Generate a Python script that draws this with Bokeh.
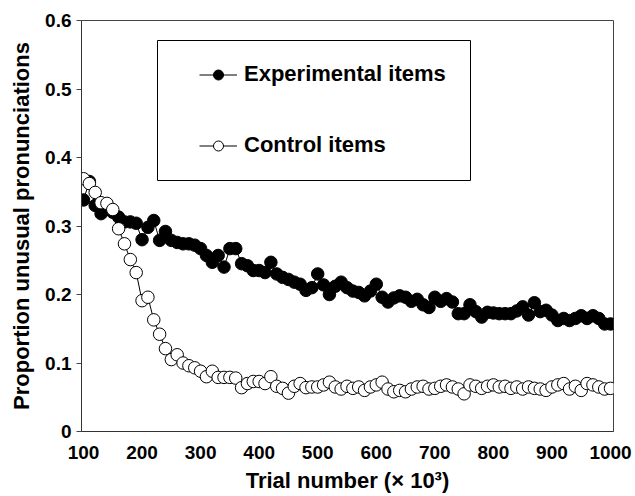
from bokeh.plotting import figure
from bokeh.models import (ColumnDataSource, FixedTicker, Legend, LegendItem,
                          BoxAnnotation, Range1d)
from bokeh.embed import file_html
from bokeh.resources import INLINE

# ---- data ----
trial = list(range(100, 1001, 10))  # x 10^3

experimental = [
    0.338, 0.365, 0.330, 0.318, 0.325, 0.320, 0.313, 0.306, 0.306, 0.304,
    0.280, 0.298, 0.308, 0.279, 0.292, 0.279, 0.276, 0.274, 0.274, 0.272,
    0.267, 0.257, 0.247, 0.257, 0.240, 0.267, 0.267, 0.245, 0.242, 0.235,
    0.235, 0.232, 0.247, 0.230, 0.225, 0.222, 0.218, 0.215, 0.206, 0.210,
    0.230, 0.214, 0.200, 0.212, 0.218, 0.210, 0.205, 0.203, 0.198, 0.205,
    0.215, 0.196, 0.189, 0.195, 0.198, 0.196, 0.190, 0.193, 0.185, 0.181,
    0.196, 0.190, 0.194, 0.189, 0.172, 0.172, 0.185, 0.175, 0.167, 0.174,
    0.173, 0.172, 0.172, 0.172, 0.176, 0.182, 0.170, 0.188, 0.175, 0.177,
    0.170, 0.162, 0.165, 0.162, 0.165, 0.169, 0.165, 0.169, 0.165, 0.157,
    0.157,
]

control = [
    0.369, 0.362, 0.349, 0.334, 0.333, 0.324, 0.296, 0.274, 0.251, 0.232,
    0.191, 0.196, 0.163, 0.142, 0.121, 0.105, 0.112, 0.100, 0.096, 0.093,
    0.088, 0.080, 0.088, 0.079, 0.079, 0.079, 0.078, 0.064, 0.070, 0.073,
    0.073, 0.070, 0.080, 0.066, 0.063, 0.056, 0.066, 0.070, 0.064, 0.065,
    0.065, 0.068, 0.072, 0.065, 0.062, 0.066, 0.063, 0.065, 0.060, 0.065,
    0.068, 0.072, 0.062, 0.058, 0.060, 0.058, 0.062, 0.065, 0.066, 0.062,
    0.063, 0.066, 0.068, 0.065, 0.062, 0.055, 0.068, 0.066, 0.063, 0.066,
    0.068, 0.065, 0.066, 0.063, 0.065, 0.062, 0.065, 0.063, 0.062, 0.060,
    0.065, 0.068, 0.070, 0.062, 0.066, 0.060, 0.070, 0.068, 0.065, 0.062,
    0.063,
]

x_ticks = [100, 200, 300, 400, 500, 600, 700, 800, 900, 1000]
y_ticks = [0, 0.1, 0.2, 0.3, 0.4, 0.5, 0.6]

series_labels = ["Experimental items", "Control items"]

assert len(trial) == len(experimental) == len(control)

FONT = "Liberation Sans"

p = figure(width=635, height=496, output_backend="svg", toolbar_location=None,
           x_range=Range1d(96.6, 1005.1), y_range=Range1d(0, 0.6),
           min_border_left=81, min_border_right=22, min_border_top=20,
           min_border_bottom=65)

p.xgrid.visible = False
p.ygrid.visible = False
p.outline_line_color = "#444444"
p.outline_line_width = 1
p.background_fill_color = "white"
p.border_fill_color = "white"

src = ColumnDataSource(dict(x=trial, exp=experimental, ctl=control))

r_el = p.line("x", "exp", source=src, line_color="black", line_width=1)
r_es = p.scatter("x", "exp", source=src, size=12.5, fill_color="black",
                 line_color="black", line_width=1)
r_cl = p.line("x", "ctl", source=src, line_color="black", line_width=1)
r_cs = p.scatter("x", "ctl", source=src, size=12.5, fill_color="white",
                 line_color="black", line_width=1)

# axes
xa = p.xaxis[0]
xa.ticker = FixedTicker(ticks=x_ticks)
xa.major_tick_line_color = None
xa.minor_tick_line_color = None
xa.axis_line_color = "#333333"
xa.axis_line_width = 1
xa.major_label_text_font = FONT
xa.major_label_text_font_style = "bold"
xa.major_label_text_font_size = "19px"
xa.major_label_text_color = "black"
xa.major_label_standoff = 8
xa.axis_label = "Trial number (× 10³)"
xa.axis_label_text_font = FONT
xa.axis_label_text_font_style = "bold"
xa.axis_label_text_font_size = "22px"
xa.axis_label_text_color = "black"
xa.axis_label_standoff = 6

ya = p.yaxis[0]
ya.ticker = FixedTicker(ticks=y_ticks)
ya.major_label_overrides = {0: "0"}
ya.major_tick_line_color = "#444444"
ya.major_tick_out = 5
ya.major_tick_in = 0
ya.minor_tick_line_color = None
ya.axis_line_color = "#333333"
ya.axis_line_width = 1
ya.major_label_text_font = FONT
ya.major_label_text_font_style = "bold"
ya.major_label_text_font_size = "19px"
ya.major_label_text_color = "black"
ya.major_label_standoff = 5
ya.axis_label = "Proportion unusual pronunciations"
ya.axis_label_text_font = FONT
ya.axis_label_text_font_style = "bold"
ya.axis_label_text_font_size = "22px"
ya.axis_label_text_color = "black"
ya.axis_label_standoff = 8

# legend frame (canvas pixels)
box = BoxAnnotation(left=157, right=470, top=40, bottom=180,
                    left_units="canvas", right_units="canvas",
                    top_units="canvas", bottom_units="canvas",
                    fill_color=None, fill_alpha=0, line_color="black",
                    line_width=1, line_alpha=1, level="overlay")
p.add_layout(box)

legend = Legend(items=[LegendItem(label=series_labels[0], renderers=[r_el, r_es]),
                       LegendItem(label=series_labels[1], renderers=[r_cl, r_cs])],
                location=(118, 273), padding=0, spacing=45,
                glyph_width=38, glyph_height=25, label_height=25,
                label_standoff=7, border_line_color=None,
                background_fill_alpha=0,
                label_text_font=FONT, label_text_font_style="bold",
                label_text_font_size="22px", label_text_color="black")
p.add_layout(legend, "center")

open("out.html", "w").write(file_html(p, INLINE))
